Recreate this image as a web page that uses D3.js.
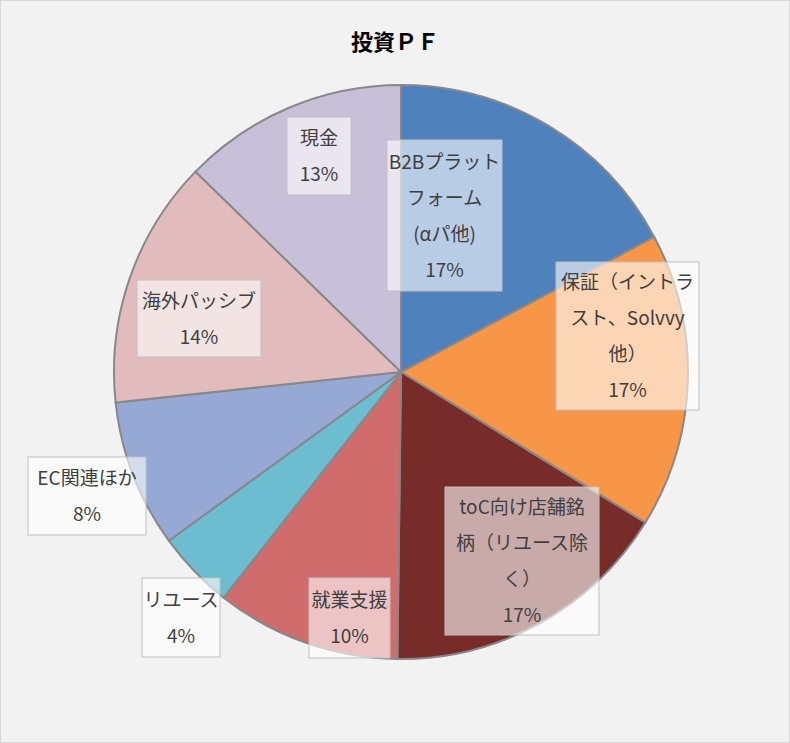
<!DOCTYPE html>
<html><head><meta charset="utf-8">
<script src="https://cdn.jsdelivr.net/npm/d3@7"></script>
<style>body{margin:0;background:#fff}svg{font-family:"Noto Sans CJK JP","Noto Sans",sans-serif}</style>
</head><body><svg id="c" width="790" height="743"></svg>
<script>
var names = ['B2Bプラットフォーム(αパ他)', '保証（イントラスト、Solvvy他）', 'toC向け店舗銘柄（リユース除く）', '就業支援', 'リユース', 'EC関連ほか', '海外パッシブ', '現金']
var values = [17.2, 16.6, 16.4, 10.4, 4.4, 8.3, 14.0, 12.7]
var pctLabels = ['17%', '17%', '17%', '10%', '4%', '8%', '14%', '13%']
var colors = ['#4f81bd', '#f79646', '#772c2a', '#d06c6c', '#6cbdd0', '#95a9d4', '#e2bcbc', '#c8c0d8']

// label boxes: [x, y, w, h, text lines]
var boxes = [
  [387, 140, 115, 151, ['B2Bプラット', 'フォーム', '(αパ他)']],
  [556, 262, 143, 148, ['保証（イントラ', 'スト、Solvvy', '他）']],
  [445, 487, 154, 148, ['toC向け店舗銘', '柄（リユース除', 'く）']],
  [309, 578, 81, 80, ['就業支援']],
  [142, 578, 78, 79, ['リユース']],
  [28, 457, 118, 78, ['EC関連ほか']],
  [137, 280, 124, 77, ['海外パッシブ']],
  [287, 117, 64, 78, ['現金']]
]

var svg = d3.select('#c')
svg.append('rect').attr('x', 0.5).attr('y', 0.5).attr('width', 789).attr('height', 742)
  .attr('fill', '#f2f2f2').attr('stroke', '#d9d9d9')
svg.append('text').attr('x', 395).attr('y', 50).attr('text-anchor', 'middle')
  .attr('font-size', 22).attr('font-weight', 'bold').attr('fill', '#000').text('投資ＰＦ')

var pie = d3.pie().sort(null).value(d => d)
var arc = d3.arc().innerRadius(0).outerRadius(287)
var g = svg.append('g').attr('transform', 'translate(401,372)')
g.selectAll('path').data(pie(values)).join('path')
  .attr('d', arc).attr('fill', (d, i) => colors[i])
  .attr('stroke', '#888').attr('stroke-width', 2)

boxes.forEach((b, i) => {
  var lg = svg.append('g')
  lg.append('rect').attr('x', b[0]).attr('y', b[1]).attr('width', b[2]).attr('height', b[3])
    .attr('fill', 'rgba(255,255,255,0.6)').attr('stroke', '#bfbfbf')
  var lines = b[4].concat([pctLabels[i]])
  var lh = 36, cx = b[0] + b[2] / 2
  var y0 = b[1] + b[3] / 2 - (lines.length - 1) * lh / 2 + 7
  lines.forEach((t, j) => {
    lg.append('text').attr('x', cx).attr('y', y0 + j * lh).attr('text-anchor', 'middle')
      .attr('font-size', 19).attr('fill', '#404040').text(t)
  })
})
</script></body></html>
